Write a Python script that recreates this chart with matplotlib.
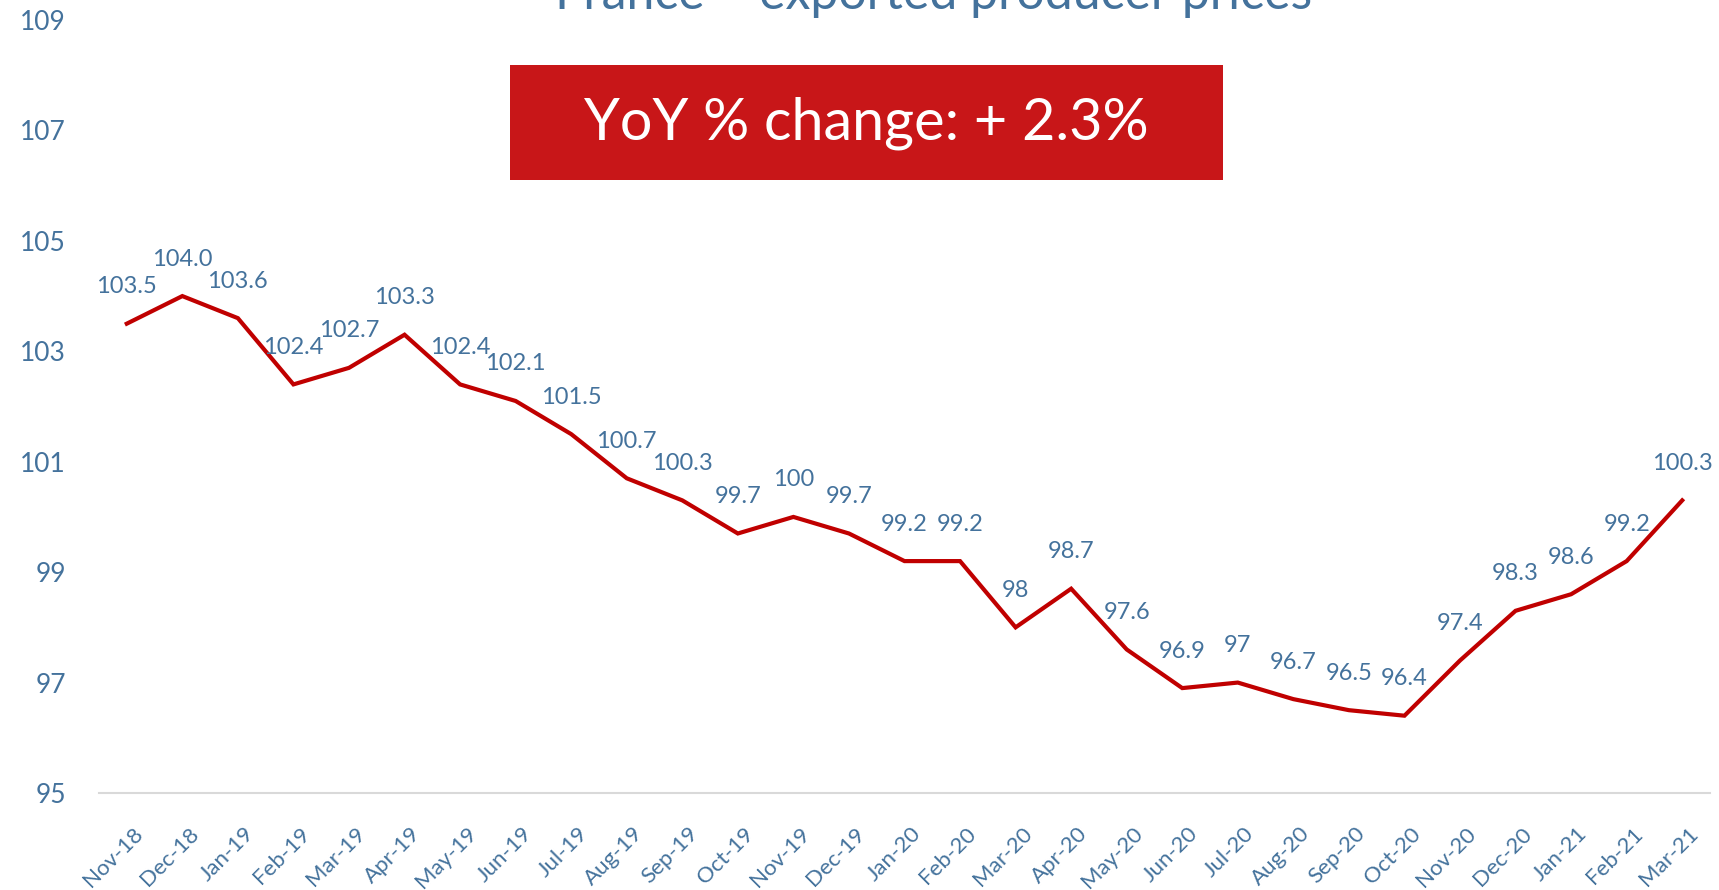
import matplotlib.pyplot as plt
from matplotlib.patches import Rectangle
from matplotlib.transforms import ScaledTranslation

months = ["Nov-18", "Dec-18", "Jan-19", "Feb-19", "Mar-19", "Apr-19", "May-19",
          "Jun-19", "Jul-19", "Aug-19", "Sep-19", "Oct-19", "Nov-19", "Dec-19",
          "Jan-20", "Feb-20", "Mar-20", "Apr-20", "May-20", "Jun-20", "Jul-20",
          "Aug-20", "Sep-20", "Oct-20", "Nov-20", "Dec-20", "Jan-21", "Feb-21",
          "Mar-21"]
prices = [103.5, 104.0, 103.6, 102.4, 102.7, 103.3, 102.4, 102.1, 101.5, 100.7,
          100.3, 99.7, 100, 99.7, 99.2, 99.2, 98, 98.7, 97.6, 96.9, 97, 96.7,
          96.5, 96.4, 97.4, 98.3, 98.6, 99.2, 100.3]
point_labels = ["103.5", "104.0", "103.6", "102.4", "102.7", "103.3", "102.4",
                "102.1", "101.5", "100.7", "100.3", "99.7", "100", "99.7", "99.2",
                "99.2", "98", "98.7", "97.6", "96.9", "97", "96.7", "96.5", "96.4",
                "97.4", "98.3", "98.6", "99.2", "100.3"]
y_ticks = [95, 97, 99, 101, 103, 105, 107, 109]

blue = "#44729C"
red_line = "#C00000"
red_box = "#C81618"

plt.rcParams['font.family'] = ['Lato', 'DejaVu Sans']

W, H = 1719, 890
fig = plt.figure(figsize=(W / 100, H / 100), dpi=100)
ax = fig.add_axes([99 / W, 1 - 793 / H, (1710 - 99) / W, (793 - 20) / H])

x = list(range(len(months)))
ax.plot(x, prices, color=red_line, linewidth=3, solid_joinstyle='miter')

for xi, v, lab in zip(x, prices, point_labels):
    ax.annotate(lab, (xi, v), xytext=(0, 37), textcoords='offset pixels',
                ha='center', va='center', color=blue, fontsize=17)

ax.set_xlim(-0.5, len(months) - 0.5)
ax.set_ylim(95, 109)
ax.set_yticks(y_ticks)
ax.set_yticklabels([str(t) for t in y_ticks], color=blue, fontsize=19)
ax.set_xticks(x)
ax.set_xticklabels(months, rotation=45, ha='right', va='top',
                   rotation_mode='anchor', color=blue, fontsize=16)
ax.tick_params(axis='both', length=0)
ax.tick_params(axis='x', pad=22)
ax.tick_params(axis='y', pad=24)

# nudge the slanted month labels a little to the right, like the original
shift = ScaledTranslation(6 / 100, 0, fig.dpi_scale_trans)
for lbl in ax.get_xticklabels():
    lbl.set_transform(lbl.get_transform() + shift)

for s in ['top', 'right', 'left']:
    ax.spines[s].set_visible(False)
ax.spines['bottom'].set_color('#D9D9D9')
ax.spines['bottom'].set_linewidth(1.5)

fig.text(934 / W, 1 - 9 / H, "France \u2013 exported producer prices",
         ha='center', va='baseline', color=blue, fontsize=36)

fig.patches.append(Rectangle((510 / W, 1 - 180 / H), (1223 - 510) / W, 115 / H,
                             transform=fig.transFigure, facecolor=red_box,
                             edgecolor='none', zorder=5))
fig.text(866 / W, 1 - 139 / H, "YoY % change: + 2.3%", ha='center',
         va='baseline', color='white', fontsize=41.5, zorder=6)

fig.savefig("out.png", dpi=100)
